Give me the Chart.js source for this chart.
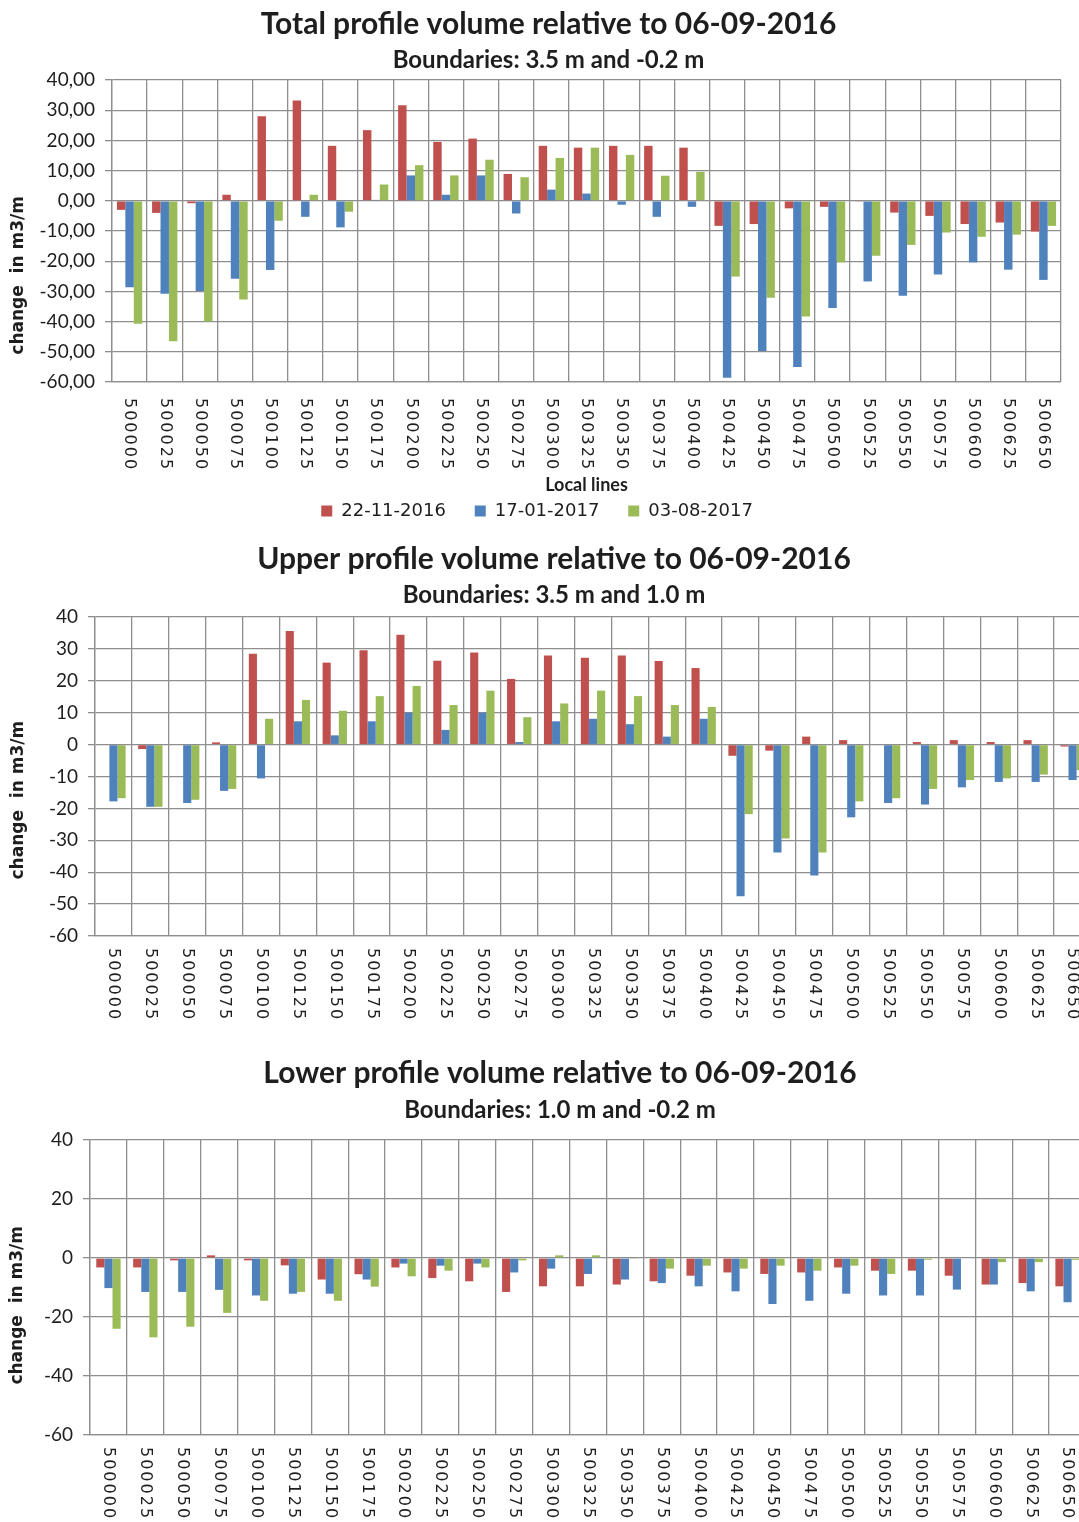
<!DOCTYPE html>
<html>
<head>
<meta charset="utf-8">
<script src="https://cdn.jsdelivr.net/npm/chart.js@4/dist/chart.umd.min.js"></script>
<style>
  html, body { margin:0; padding:0; background:#fff; overflow:hidden; }
  body { width:1079px; height:1522px; position:relative; }
  canvas { position:absolute; left:0; }
</style>
</head>
<body>
<canvas id="total" width="1079" height="530" style="top:0"></canvas>
<canvas id="upper" width="1100" height="500" style="top:530px"></canvas>
<canvas id="lower" width="1100" height="482" style="top:1040px"></canvas>
<script>
// profile lines along the coast
const lines = ['500000','500025','500050','500075','500100','500125','500150','500175','500200',
  '500225','500250','500275','500300','500325','500350','500375','500400','500425','500450',
  '500475','500500','500525','500550','500575','500600','500625','500650'];
const surveys = ['22-11-2016', '17-01-2017', '03-08-2017'];

// total volume (3.5 m to -0.2 m)
const totalNov = [-3, -4, -0.8, 2, 28, 33.2, 18.2, 23.4, 31.6, 19.5, 20.6, 8.9, 18.2, 17.6, 18.2, 18.2, 17.6,
  -8.3, -7.7, -2.5, -2, -0.3, -3.9, -5, -7.7, -7.2, -10.2];
const totalJan = [-28.6, -30.8, -29.9, -25.8, -22.9, -5.3, -8.8, 0.3, 8.4, 2, 8.4, -4.2, 3.7, 2.4, -1.3, -5.3, -2,
  -58.6, -49.7, -55, -35.5, -26.7, -31.4, -24.4, -20.4, -22.8, -26.2];
const totalAug = [-40.7, -46.5, -40, -32.7, -6.6, 2, -3.6, 5.4, 11.8, 8.4, 13.6, 7.8, 14.2, 17.6, 15.2, 8.3, 9.6,
  -25.1, -32.1, -38.3, -20.4, -18.2, -14.6, -10.5, -11.9, -11.2, -8.3];

// upper volume (3.5 m to 1.0 m)
const upperNov = [0, -1.4, 0, 0.7, 28.5, 35.6, 25.7, 29.6, 34.4, 26.3, 28.9, 20.6, 27.9, 27.2, 27.9, 26.2, 24,
  -3.5, -1.9, 2.5, 1.4, 0, 0.8, 1.4, 0.8, 1.4, -0.6];
const upperJan = [-17.8, -19.5, -18.3, -14.5, -10.6, 7.3, 2.9, 7.3, 10, 4.6, 10, 0.8, 7.3, 8.1, 6.4, 2.5, 8.1,
  -47.5, -33.8, -41, -22.8, -18.3, -18.8, -13.4, -11.7, -11.7, -11.1];
const upperAug = [-16.8, -19.5, -17.3, -13.9, 8.1, 14, 10.6, 15.2, 18.4, 12.4, 16.9, 8.6, 12.9, 16.9, 15.2, 12.4, 11.8,
  -21.8, -29.4, -33.8, -17.8, -16.8, -13.9, -11.1, -10.6, -9.4, -8];

// lower volume (1.0 m to -0.2 m)
const lowerNov = [-3.2, -3.2, -0.8, 0.9, -0.8, -2.5, -7.3, -5.5, -3.2, -6.8, -7.9, -11.5, -9.6, -9.6, -9, -7.9, -6,
  -4.9, -5.4, -4.9, -3.2, -4.3, -4.3, -6, -9, -8.5, -9.6];
const lowerJan = [-10.2, -11.5, -11.5, -10.8, -12.7, -12.1, -12.1, -7.3, -1.9, -2.6, -1.9, -4.9, -3.6, -5.4, -7.3, -8.5, -9.6,
  -11.3, -15.6, -14.5, -12.1, -12.7, -12.7, -10.7, -9, -11.3, -15];
const lowerAug = [-24, -26.9, -23.3, -18.6, -14.5, -11.5, -14.5, -9.7, -6.2, -4.3, -3.2, -0.8, 0.9, 0.9, -0.3, -3.6, -2.6,
  -3.6, -2.6, -4.3, -2.6, -5.4, -0.6, 0, -1.4, -1.4, -0.6];

const colors = ['#C0504D', '#4F81BD', '#9BBB59'];
const gridColor = '#8e8e8e';
const ink = '#1e1e1e';
const face = 'Lato, "Open Sans", sans-serif';
const yTitle = 'change  in m3/m';

// x labels read top-to-bottom, so draw them ourselves
const verticalLabels = {
  id: 'verticalLabels',
  afterDraw(chart, args, opts) {
    const scale = chart.scales.x;
    const ctx = chart.ctx;
    ctx.save();
    ctx.font = '16px "DejaVu Sans"';
    if ('letterSpacing' in ctx) ctx.letterSpacing = '2px';
    ctx.fillStyle = ink;
    ctx.textAlign = 'left';
    ctx.textBaseline = 'middle';
    chart.data.labels.forEach((lbl, i) => {
      ctx.save();
      ctx.translate(scale.getPixelForTick(i), scale.top + opts.gap);
      ctx.rotate(Math.PI / 2);
      ctx.fillText(lbl, 0, 0);
      ctx.restore();
    });
    ctx.restore();
  }
};

// wider gaps between legend entries
const legendItems = ch => Chart.defaults.plugins.legend.labels.generateLabels(ch)
  .map(item => ({ ...item, text: item.text + '    ' }));

function barChart(id, c) {
  return new Chart(document.getElementById(id), {
    type: 'bar',
    data: {
      labels: lines,
      datasets: c.values.map((v, i) => ({
        label: surveys[i], data: v, backgroundColor: colors[i], borderWidth: 0,
        categoryPercentage: c.catPct, barPercentage: 1
      }))
    },
    plugins: [verticalLabels],
    options: {
      responsive: false,
      animation: false,
      layout: { padding: { left: c.padLeft, right: c.padRight, top: 0, bottom: c.padBottom } },
      plugins: {
        title: { display: true, text: c.title, color: ink,
          font: { family: face, size: 30, weight: 'bold', lineHeight: 1.2 }, padding: c.titlePad },
        subtitle: { display: true, text: c.subtitle, color: ink,
          font: { family: face, size: 24, weight: 'bold', lineHeight: 1.2 }, padding: c.subPad },
        legend: {
          display: c.legend, position: 'bottom',
          labels: { color: ink, boxWidth: 11, boxHeight: 11, padding: 6, generateLabels: legendItems,
            font: { family: '"DejaVu Sans", sans-serif', size: 18 } }
        },
        tooltip: { enabled: false },
        verticalLabels: { gap: c.labelGap }
      },
      scales: {
        x: {
          grid: { color: gridColor, lineWidth: 1.3, drawTicks: false },
          border: { color: gridColor, width: 1.3 },
          ticks: { display: false },
          title: { display: !!c.xTitle, text: c.xTitle, color: ink,
            font: { family: face, size: 18, weight: 'bold', lineHeight: 1.2 }, padding: 0 },
          afterFit: s => { s.height = c.xHeight; }
        },
        y: {
          min: -60, max: 40,
          grid: { color: gridColor, lineWidth: 1.3, tickLength: 7 },
          border: { color: gridColor, width: 1.3 },
          ticks: { stepSize: c.step, padding: 10, color: ink, font: { family: face, size: 19 },
            callback: c.fmt },
          // trailing spaces push the axis title down the axis
          title: { display: true, text: yTitle + ' '.repeat(c.titleShift), color: ink,
            font: { family: '"DejaVu Sans", sans-serif', size: 17, weight: 'bold', lineHeight: 1.2 },
            padding: { top: c.yTitlePad, bottom: 0 } },
          afterFit: s => { s.width = c.yWidth; }
        }
      }
    }
  });
}

barChart('total', {
  title: 'Total profile volume relative to 06-09-2016',
  subtitle: 'Boundaries: 3.5 m and -0.2 m',
  values: [totalNov, totalJan, totalAug],
  catPct: 0.72, step: 10, fmt: v => v.toFixed(2).replace('.', ','),
  padLeft: 36, padRight: 18, padBottom: 0,
  titlePad: { top: 6, bottom: 2 }, subPad: { top: 1.6, bottom: 5.6 },
  yWidth: 76, yTitlePad: -28, titleShift: 15,
  xHeight: 114, labelGap: 16, xTitle: 'Local lines', legend: true
});

barChart('upper', {
  title: 'Upper profile volume relative to 06-09-2016',
  subtitle: 'Boundaries: 3.5 m and 1.0 m',
  values: [upperNov, upperJan, upperAug],
  catPct: 0.66, step: 10, fmt: v => v,
  padLeft: 17, padRight: 9, padBottom: 0,
  titlePad: { top: 11, bottom: 2 }, subPad: { top: 1.6, bottom: 7.6 },
  yWidth: 78, yTitlePad: -9, titleShift: 8,
  xHeight: 94, labelGap: 12, xTitle: '', legend: false
});

barChart('lower', {
  title: 'Lower profile volume relative to 06-09-2016',
  subtitle: 'Boundaries: 1.0 m and -0.2 m',
  values: [lowerNov, lowerJan, lowerAug],
  catPct: 0.66, step: 20, fmt: v => v,
  padLeft: 34, padRight: 14, padBottom: 0,
  titlePad: { top: 15, bottom: 2 }, subPad: { top: 2.6, bottom: 15.6 },
  yWidth: 56, yTitlePad: -27, titleShift: 6,
  xHeight: 87, labelGap: 12, xTitle: '', legend: false
});
</script>
</body>
</html>
